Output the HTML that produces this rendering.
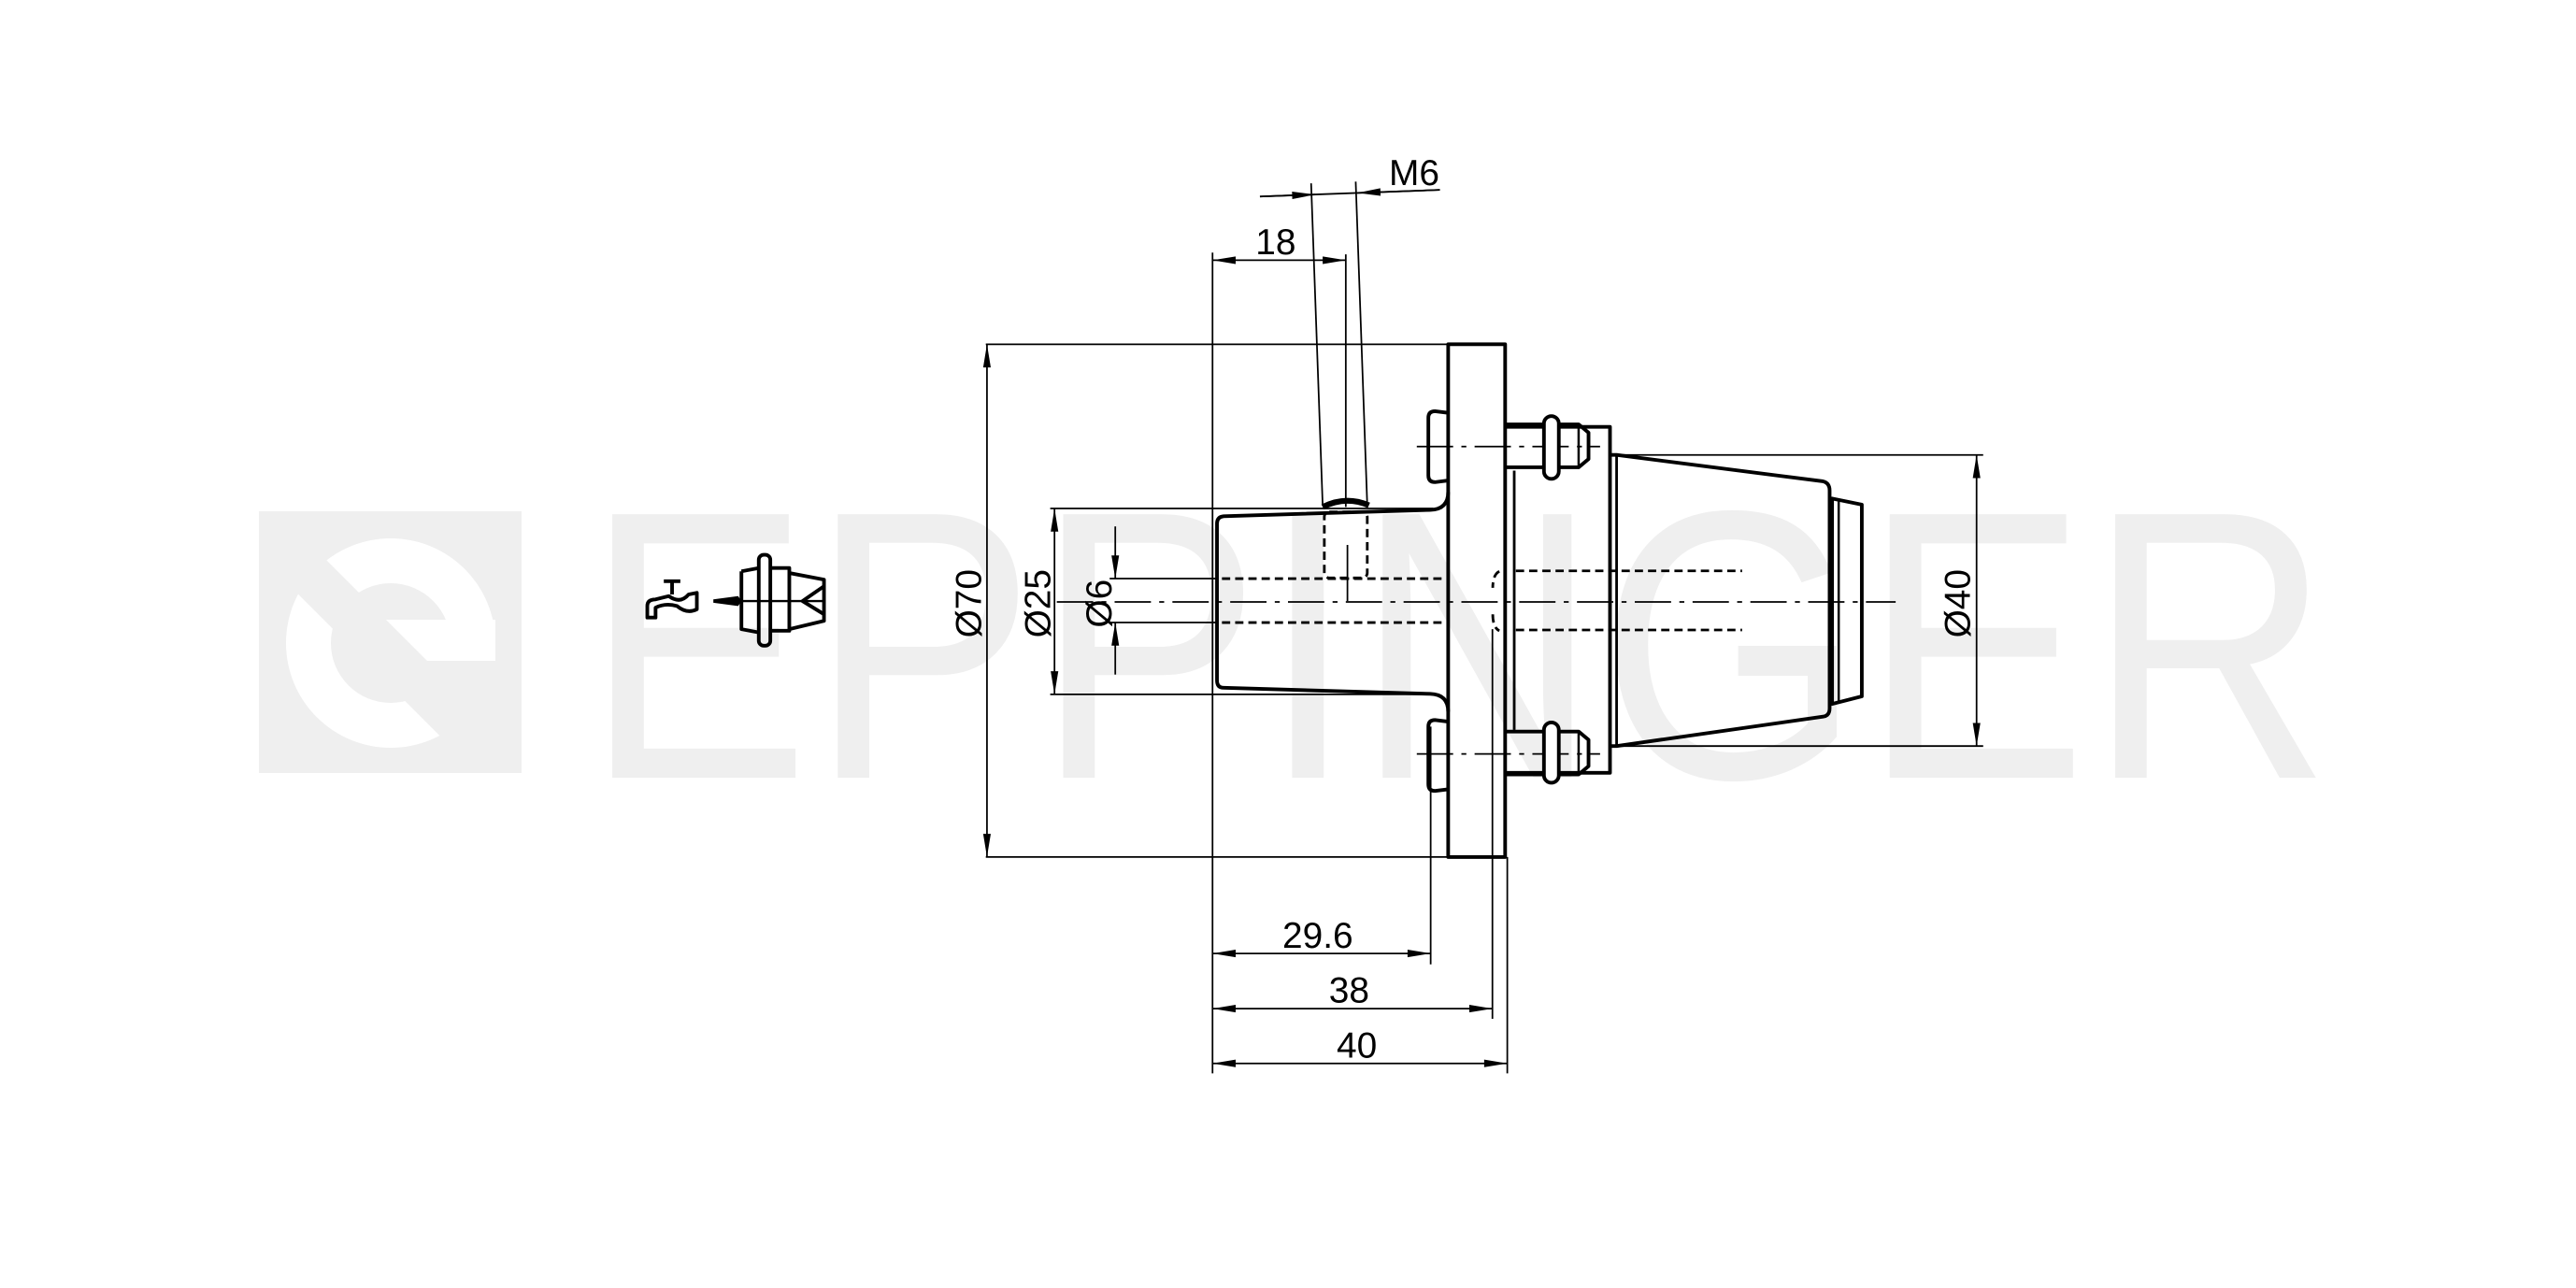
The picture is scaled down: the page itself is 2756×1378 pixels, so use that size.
<!DOCTYPE html>
<html><head><meta charset="utf-8"><style>
html,body{margin:0;padding:0;background:#fff;}
svg{display:block;}
text{font-family:"Liberation Sans","DejaVu Sans",sans-serif;fill:#000;}
</style></head><body>
<svg width="2756" height="1378" viewBox="0 0 1560 780" xmlns="http://www.w3.org/2000/svg">
<defs>
<marker id="ar" markerUnits="userSpaceOnUse" markerWidth="20" markerHeight="10" viewBox="-16 -5 17 10" refX="0" refY="0" orient="auto-start-reverse">
<path d="M0,0 L-14,-2.3 L-14,2.3 Z" fill="#000"/>
</marker>
<clipPath id="c1"><polygon points="200,450 457,707 700,707 700,300 200,300"/><polygon points="200,516.7 600,916.7 200,916.7"/></clipPath>
</defs>
<g transform="scale(0.56603)">
<rect x="277" y="547" width="281" height="280" fill="#efefef"/>
<path d="M530,688 a112,112 0 1,0 -224,0 a112,112 0 1,0 224,0 Z M482,688 a64,64 0 1,1 -128,0 a64,64 0 1,1 128,0 Z" fill="#fff" fill-rule="evenodd" clip-path="url(#c1)"/>
<polygon points="413,663 530,663 530,707 457,707" fill="#fff"/>
</g>
<text x="354" y="471" font-size="232" textLength="1058" lengthAdjust="spacingAndGlyphs" style="fill:#efefef">EPPINGER</text>

<g fill="none" stroke="#000" stroke-width="1">
<line x1="640" y1="364.5" x2="1148" y2="364.5" stroke-dasharray="22,5,3,5"/>
<line x1="858" y1="270.4" x2="969" y2="270.4" stroke-dasharray="22,5,3,5"/>
<line x1="858" y1="456.6" x2="969" y2="456.6" stroke-dasharray="22,5,3,5"/>
<line x1="597" y1="208.5" x2="877" y2="208.5"/>
<line x1="597" y1="519" x2="877" y2="519"/>
<line x1="636" y1="307.9" x2="868" y2="307.9"/>
<line x1="636" y1="420.5" x2="868" y2="420.5"/>
<line x1="672" y1="350.4" x2="737" y2="350.4"/>
<line x1="672" y1="377" x2="737" y2="377"/>
<line x1="979" y1="275.5" x2="1201" y2="275.5"/>
<line x1="979" y1="451.8" x2="1201" y2="451.8"/>
<line x1="734.3" y1="153" x2="734.3" y2="650"/>
<line x1="815" y1="154" x2="815" y2="307"/>
<line x1="794" y1="111" x2="801" y2="306"/>
<line x1="821" y1="110" x2="828" y2="306"/>
<line x1="866.4" y1="440" x2="866.4" y2="584"/>
<line x1="903.8" y1="381" x2="903.8" y2="617"/>
<line x1="912.8" y1="519" x2="912.8" y2="650"/>
<line x1="816" y1="330" x2="816" y2="364"/>
<line x1="597.7" y1="208.5" x2="597.7" y2="519" marker-start="url(#ar)" marker-end="url(#ar)"/>
<line x1="638.6" y1="307.9" x2="638.6" y2="420.5" marker-start="url(#ar)" marker-end="url(#ar)"/>
<line x1="675.4" y1="318.8" x2="675.4" y2="350.4" marker-end="url(#ar)"/>
<line x1="675.4" y1="408.5" x2="675.4" y2="377" marker-end="url(#ar)"/>
<line x1="1197" y1="275.5" x2="1197" y2="451.8" marker-start="url(#ar)" marker-end="url(#ar)"/>
<line x1="734.3" y1="157.6" x2="815" y2="157.6" marker-start="url(#ar)" marker-end="url(#ar)"/>
<line x1="734.3" y1="577.4" x2="866.4" y2="577.4" marker-start="url(#ar)" marker-end="url(#ar)"/>
<line x1="734.3" y1="610.8" x2="903.8" y2="610.8" marker-start="url(#ar)" marker-end="url(#ar)"/>
<line x1="734.3" y1="644" x2="912.8" y2="644" marker-start="url(#ar)" marker-end="url(#ar)"/>
<line x1="763" y1="119" x2="872" y2="115"/>
<line x1="763" y1="119" x2="796.5" y2="117.8" marker-end="url(#ar)"/>
<line x1="872" y1="115" x2="822" y2="116.8" marker-end="url(#ar)"/>
</g>

<g fill="none" stroke="#000" stroke-width="1.6" stroke-dasharray="5,3">
<line x1="740" y1="350.4" x2="877" y2="350.4"/>
<line x1="740" y1="377" x2="877" y2="377"/>
<line x1="918" y1="345.7" x2="1055" y2="345.7"/>
<line x1="918" y1="381.5" x2="1055" y2="381.5"/>
<rect x="802" y="310" width="26" height="40" rx="3"/>
<path d="M908,346 Q904,348 904,356 M904,372 Q904,380 908,382"/>
</g>

<g fill="none" stroke="#000" stroke-width="2.2" stroke-linejoin="round">
<rect x="877" y="208.5" width="34.5" height="310.5"/>
<path d="M877,298 Q877,308.5 866,308.8 L741,312.6 Q737,313 737,317 L737,412 Q737,416.5 741,416.5 L866,420.2 Q877,420.5 877,431"/>
<path d="M877,250 L869,249 Q865,249 865,253 L865,288 Q865,292 869,292 L877,291"/>
<path d="M877,437 L869,436 Q865,436 865,440 L865,475 Q865,479 869,479 L877,478"/>
<path d="M911.5,258.5 L975,258.5 L975,468 L911.5,468"/>
<line x1="917" y1="285" x2="917" y2="442" stroke-width="1.6"/>
<path d="M911.5,257 L956,257 L962,262 L962,278 L956,283 L911.5,283"/>
<line x1="956" y1="257" x2="956" y2="283" stroke-width="1.4"/>
<rect x="935" y="252" width="9" height="38" rx="4.5" fill="#fff"/>
<path d="M911.5,443 L956,443 L962,448 L962,464 L956,469 L911.5,469"/>
<line x1="956" y1="443" x2="956" y2="469" stroke-width="1.4"/>
<rect x="935" y="437.5" width="9" height="36.5" rx="4.5" fill="#fff"/>
<line x1="979" y1="275.5" x2="979" y2="451.8" stroke-width="1.6"/>
<path d="M975,275.5 L979,275.5 L1104,291.5 Q1108,292.5 1108,297 L1108,429 Q1108,433.5 1104,434 L979,451.8 L975,451.8"/>
<path d="M1109.5,301.9 L1127.5,305.6 L1127.5,421.7 L1109.5,426.3 Z"/>
<line x1="1113.5" y1="302.5" x2="1113.5" y2="425.5" stroke-width="1.4"/>
<path d="M801,307 Q815,300 829,306" stroke-width="3.5"/>
</g>

<g fill="none" stroke="#000" stroke-width="2.2" stroke-linejoin="round">
<path d="M392,374 L392,367 Q392,363 397,363 L405,361 Q412,366 417,360 L422,359 L422,369 Q416,372 410,367 Q403,365 397,368 L397,374 Z"/>
<line x1="407" y1="352" x2="407" y2="360"/>
<line x1="402" y1="352" x2="412" y2="352"/>
<rect x="459.5" y="336" width="7" height="55" rx="3"/>
<path d="M449,346 L459.5,344 M466.5,344 L478,344 L478,382 L466.5,382 M459.5,383 L449,381 L449,346"/>
<path d="M478,347 L499,351 L499,376 L478,381"/>
<path d="M499,355 L486,364 L499,372"/>
</g>
<line x1="437" y1="364" x2="499" y2="364" stroke="#000" stroke-width="1.4"/>
<path d="M432,363 L447,361 L449,364 L447,367 L432,365 Z" fill="#000"/>

<g font-size="22">
<text x="772.6" y="154" text-anchor="middle">18</text>
<text x="856.4" y="112" text-anchor="middle">M6</text>
<text x="798" y="574" text-anchor="middle">29.6</text>
<text x="817" y="607" text-anchor="middle">38</text>
<text x="821.7" y="640.6" text-anchor="middle">40</text>
<text transform="translate(594,365.5) rotate(-90)" text-anchor="middle">Ø70</text>
<text transform="translate(636,365.5) rotate(-90)" text-anchor="middle">Ø25</text>
<text transform="translate(673,365.5) rotate(-90)" text-anchor="middle">Ø6</text>
<text transform="translate(1193,365.5) rotate(-90)" text-anchor="middle">Ø40</text>
</g>
</svg>
</body></html>
